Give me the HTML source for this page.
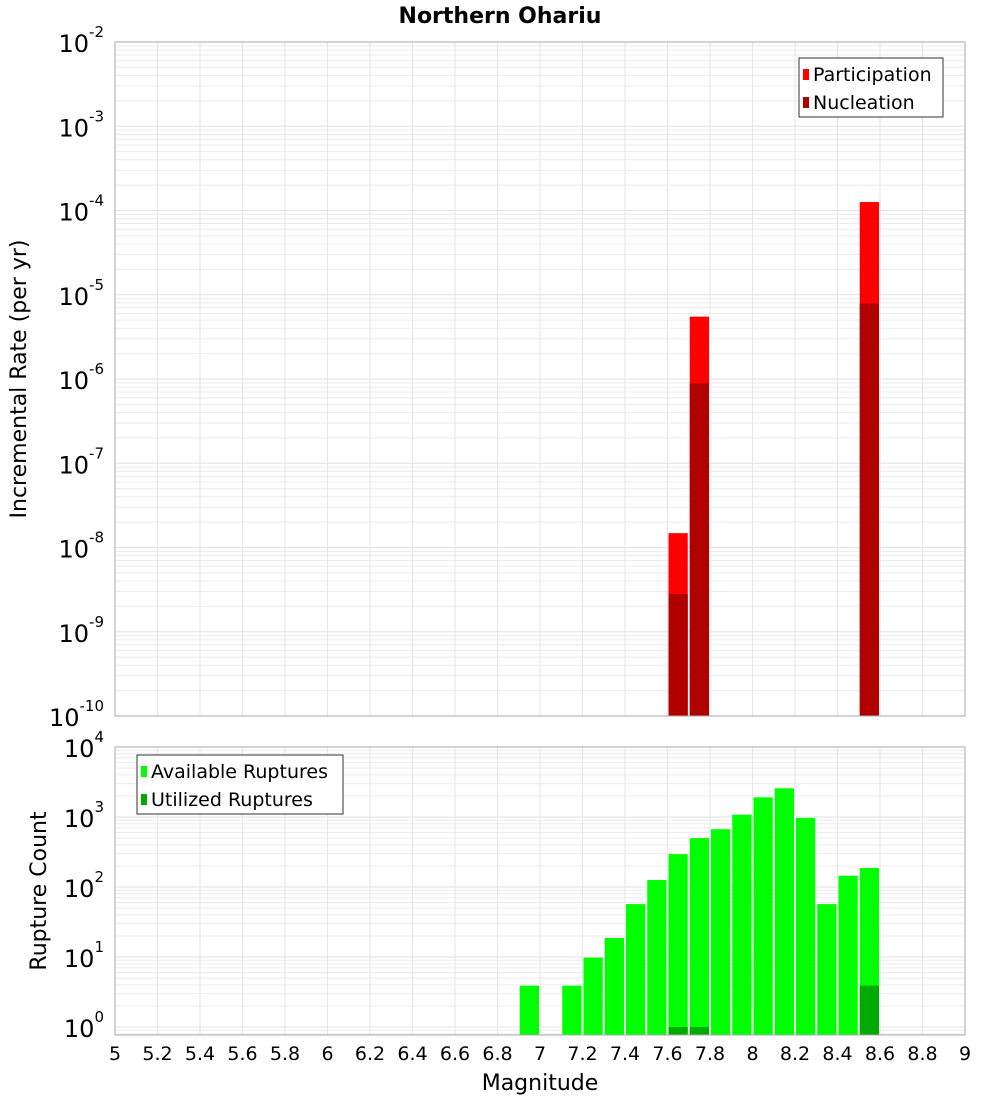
<!DOCTYPE html>
<html><head><meta charset="utf-8"><style>
body{margin:0;background:#fff;font-family:"DejaVu Sans","Liberation Sans",sans-serif;}
svg text{font-family:"DejaVu Sans","Liberation Sans",sans-serif;}
</style></head><body>
<svg id="chart" width="1000" height="1100" xmlns="http://www.w3.org/2000/svg">
<text x="500" y="23" text-anchor="middle" font-size="22" font-weight="bold">Northern Ohariu</text>
<text transform="translate(26,379) rotate(-90)" text-anchor="middle" font-size="22">Incremental Rate (per yr)</text>
<text transform="translate(46,891) rotate(-90)" text-anchor="middle" font-size="22">Rupture Count</text>
<text x="540" y="1090" text-anchor="middle" font-size="22">Magnitude</text>
<g id="top"></g><g id="bot"></g>
</svg>
<script>
const topBins=[7.65,7.75,8.55];
const participation=[1.48e-8,5.5e-6,1.26e-4];
const nucleation=[2.8e-9,8.9e-7,7.9e-6];
const botBins=[6.95,7.15,7.25,7.35,7.45,7.55,7.65,7.75,7.85,7.95,8.05,8.15,8.25,8.35,8.45,8.55];
const available=[3.9,3.9,9.8,18.7,57,126,295,500,670,1080,1910,2570,970,57,145,187];
const utilBins=[7.65,7.75,8.55];
const utilized=[1,1,3.9];
const xTicks=[5,5.2,5.4,5.6,5.8,6,6.2,6.4,6.6,6.8,7,7.2,7.4,7.6,7.8,8,8.2,8.4,8.6,8.8,9];
const topExps=[-10,-9,-8,-7,-6,-5,-4,-3,-2];
const botExps=[0,1,2,3,4];

const NS="http://www.w3.org/2000/svg";
const X0=115,X1=965;
const x=m=>X0+(m-5)/4*(X1-X0);
function el(p,t,a){const e=document.createElementNS(NS,t);for(const k in a)e.setAttribute(k,a[k]);p.appendChild(e);return e;}
function panel(g,yTop,yBot,lmin,lmax,exps,name){
  const y=v=>yBot-(Math.log10(v)-lmin)/(lmax-lmin)*(yBot-yTop);
  let r=el(g,'rect',{x:X0,y:yTop,width:X1-X0,height:yBot-yTop,fill:'#fff'});
  
  
  for(let d=Math.floor(lmin);d<Math.ceil(lmax);d++)for(let k=1;k<10;k++){
    const v=k*Math.pow(10,d),yy=y(v);if(yy<yTop-0.1||yy>yBot+0.1)continue;
    const l=el(g,'line',{x1:X0,x2:X1,y1:yy,y2:yy,stroke:k==1?'#e2e2e2':'#ececec','stroke-width':1});
    
    
  }
  for(const t of xTicks){const l=el(g,'line',{x1:x(t),x2:x(t),y1:yTop,y2:yBot,stroke:'#e6e6e6','stroke-width':1});
    
    }
  for(const e of exps){const yy=y(Math.pow(10,e));
    const t=el(g,'text',{x:104,y:yy+10,'text-anchor':'end','font-size':24});
    
    
    t.textContent='10';
    const s=el(t,'tspan',{dy:-15,'font-size':15});s.textContent=String(e);}
  return y;
}
const gt=document.getElementById('top'),gb=document.getElementById('bot');
const yT=panel(gt,42,716,-10,-2,topExps,'top');
const bw=x(5.1)-x(5)-2;
topBins.forEach((m,i)=>{
  const yp=yT(participation[i]);
  let r=el(gt,'rect',{x:x(m)-bw/2,y:yp,width:bw,height:716-yp,fill:'#ff0000'});
  
  
  const yn=yT(nucleation[i]);
  r=el(gt,'rect',{x:x(m)-bw/2,y:yn,width:bw,height:716-yn,fill:'#b00000'});
  
  
});
let fr=el(gt,'rect',{x:X0,y:42,width:X1-X0,height:674,fill:'none',stroke:'#aaa'});


const bmin=Math.log10(0.77);
const yB=panel(gb,747,1035,bmin,4,botExps,'bottom');
botBins.forEach((m,i)=>{
  const ya=yB(available[i]);
  const r=el(gb,'rect',{x:x(m)-bw/2,y:ya,width:bw,height:1035-ya,fill:'#00ff00'});
  
  
});
utilBins.forEach((m,i)=>{
  const yu=yB(utilized[i]);
  const r=el(gb,'rect',{x:x(m)-bw/2,y:yu,width:bw,height:1035-yu,fill:'#00aa00'});
  
  
});
fr=el(gb,'rect',{x:X0,y:747,width:X1-X0,height:288,fill:'none',stroke:'#aaa'});


for(const t of xTicks){const tx=el(gb,'text',{x:x(t),y:1060,'text-anchor':'middle','font-size':19});
  
  
  tx.textContent=String(t);}
function legend(g,lx,ly,w,items,name){
  const b=el(g,'rect',{x:lx,y:ly,width:w,height:59,fill:'#fff',stroke:'#333'});
  
  
  items.forEach((it,i)=>{
    const s=el(g,'rect',{x:lx+4,y:ly+11+i*28,width:6,height:11,fill:it[1]});
    
    
    const t=el(g,'text',{x:lx+14,y:ly+23+i*28,'font-size':19});
    
    
    t.textContent=it[0];
  });
}
legend(gt,799,58,144,[['Participation','#ff0000'],['Nucleation','#b00000']],'top-legend');
legend(gb,137,755,206,[['Available Ruptures','#00ff00'],['Utilized Ruptures','#00aa00']],'bottom-legend');
</script>
</body></html>
